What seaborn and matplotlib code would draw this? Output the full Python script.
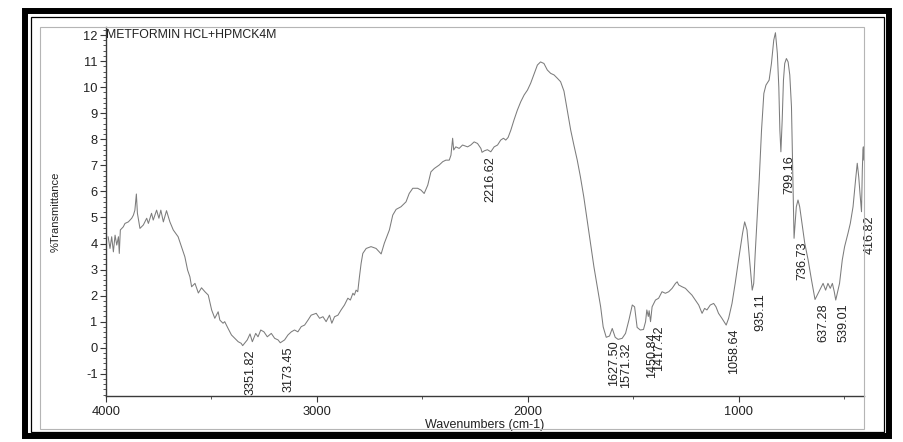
import numpy as np
import pandas as pd
import matplotlib
matplotlib.use("Agg")
import matplotlib.pyplot as plt
from matplotlib.patches import Rectangle
from matplotlib.ticker import MultipleLocator
import seaborn as sns

# ---------------- data ----------------
wn_a = [3990, 3981, 3973, 3965, 3957, 3949, 3941, 3937, 3932, 3918, 3910, 3894, 3878, 3870, 3863,
        3856, 3851, 3839, 3823, 3807, 3799, 3784, 3776, 3760, 3749, 3740, 3728, 3713, 3697, 3681,
        3658, 3642, 3626, 3613, 3602, 3594, 3578, 3562, 3547, 3531, 3515, 3499, 3484, 3468, 3460]
t_a = [4.26, 3.81, 4.26, 3.68, 4.32, 3.94, 4.26, 3.62, 4.52, 4.64, 4.77, 4.83, 4.97, 5.09, 5.28,
       5.90, 5.16, 4.58, 4.71, 4.97, 4.77, 5.16, 4.90, 5.28, 4.97, 5.28, 4.83, 5.26, 4.83, 4.52,
       4.26, 3.88, 3.49, 2.98, 2.72, 2.34, 2.47, 2.10, 2.30, 2.15, 2.02, 1.45, 1.13, 1.38, 1.06]

wn_b = [3445, 3437, 3421, 3405, 3389, 3373, 3359, 3351.82, 3330, 3317, 3306, 3290, 3279, 3266, 3251,
        3235, 3216, 3200, 3184, 3173.45, 3153, 3137, 3121, 3106, 3090, 3074, 3058, 3042, 3027, 3003,
        2987, 2971, 2956, 2940, 2929, 2916, 2900, 2885, 2869, 2853, 2841, 2829, 2822, 2814, 2806]
t_b = [0.94, 1.00, 0.74, 0.49, 0.36, 0.23, 0.17, 0.08, 0.30, 0.53, 0.23, 0.55, 0.42, 0.68, 0.61,
       0.42, 0.55, 0.36, 0.30, 0.19, 0.30, 0.49, 0.61, 0.68, 0.61, 0.81, 0.87, 1.06, 1.25, 1.32,
       1.13, 1.19, 1.00, 1.25, 0.94, 1.19, 1.25, 1.45, 1.64, 1.90, 1.83, 2.09, 2.02, 2.21, 2.15]

wn_c = [2798, 2790, 2782, 2766, 2743, 2719, 2695, 2680, 2656, 2640, 2624, 2601, 2577, 2562, 2545,
        2522, 2506, 2491, 2474, 2459, 2443, 2420, 2403, 2388, 2372, 2364, 2356, 2351, 2341, 2325,
        2309, 2285, 2270, 2254, 2238, 2222, 2216.62, 2205, 2191, 2175, 2159, 2143, 2128, 2115, 2104,
        2093, 2080, 2065, 2049, 2033, 2017, 2001]
t_c = [2.72, 3.24, 3.62, 3.81, 3.88, 3.81, 3.60, 4.01, 4.52, 5.09, 5.31, 5.41, 5.60, 5.92, 6.12,
       6.12, 6.05, 5.92, 6.24, 6.75, 6.88, 7.01, 7.14, 7.20, 7.20, 7.39, 8.04, 7.59, 7.71, 7.65,
       7.78, 7.71, 7.78, 7.90, 7.84, 7.65, 7.50, 7.56, 7.60, 7.52, 7.71, 7.78, 7.97, 8.04, 7.97,
       8.07, 8.35, 8.74, 9.12, 9.44, 9.70, 9.89]

wn_d = [1986, 1970, 1954, 1939, 1923, 1907, 1891, 1875, 1859, 1844, 1828, 1812, 1796, 1781, 1765,
        1750, 1734, 1718, 1702, 1686, 1670, 1654, 1642, 1627.50, 1612, 1599, 1585, 1571.32, 1552, 1536,
        1520, 1504, 1493, 1481, 1466, 1450.84, 1441, 1435, 1428, 1424, 1417.42, 1410, 1402, 1394, 1379,
        1363, 1347, 1331, 1315, 1299, 1291, 1284, 1268, 1252, 1237, 1221, 1205, 1189, 1173, 1161,
        1150, 1134, 1118, 1107, 1095, 1079, 1058.64, 1047, 1031, 1016, 1000]
t_d = [10.15, 10.50, 10.85, 10.97, 10.91, 10.66, 10.53, 10.47, 10.34, 10.21, 9.85, 9.10, 8.35, 7.78, 7.20,
       6.56, 5.79, 4.90, 4.01, 3.11, 2.34, 1.57, 0.80, 0.40, 0.45, 0.74, 0.40, 0.32, 0.36, 0.55,
       1.06, 1.64, 1.57, 0.78, 0.68, 0.70, 1.00, 1.45, 1.20, 1.42, 1.00, 1.57, 1.70, 1.83, 1.90,
       2.15, 2.09, 2.15, 2.28, 2.47, 2.53, 2.41, 2.34, 2.28, 2.15, 2.02, 1.83, 1.64, 1.32, 1.51,
       1.45, 1.64, 1.70, 1.57, 1.32, 1.13, 0.87, 1.13, 1.70, 2.47, 3.37]

wn_e = [981, 971, 960, 953, 945, 935.11, 928, 921, 902, 891, 880, 870, 855, 844, 833,
        825, 816, 809, 804, 799.16, 793, 787, 781, 773, 765, 757, 749, 744, 740, 736.73,
        726, 718, 710, 697, 686, 670, 654, 637.28, 615, 599, 587, 576, 565, 555, 546,
        539.01, 521, 508, 497, 481, 470, 457, 445, 437, 430, 424, 416.82, 413, 410, 408, 406]
t_e = [4.39, 4.83, 4.52, 3.88, 3.11, 2.21, 2.47, 3.62, 6.44, 8.35, 9.76, 10.08, 10.27, 10.91, 11.81,
       12.09, 11.30, 10.00, 8.35, 7.52, 8.74, 10.27, 10.91, 11.10, 10.97, 10.47, 9.25, 7.20, 5.41, 4.20,
       5.41, 5.67, 5.41, 4.64, 4.01, 3.37, 2.60, 1.85, 2.21, 2.47, 2.21, 2.47, 2.28, 2.47, 2.15,
       1.83, 2.47, 3.37, 3.88, 4.39, 4.77, 5.41, 6.44, 7.08, 6.56, 5.92, 5.22, 6.82, 7.59, 7.71, 7.20]

peak_labels = ["3351.82", "3173.45", "2216.62", "1627.50", "1571.32", "1450.84", "1417.42",
               "1058.64", "935.11", "799.16", "736.73", "637.28", "539.01", "416.82"]

title_text = "METFORMIN HCL+HPMCK4M"
x_label = "Wavenumbers (cm-1)"
y_label = "%Transmittance"
x_ticks = [4000, 3000, 2000, 1000]
y_ticks = list(range(-1, 13))

# ---------------- build frame ----------------
wn = wn_a + wn_b + wn_c + wn_d + wn_e
tt = t_a + t_b + t_c + t_d + t_e
df = pd.DataFrame({"wavenumber": wn, "transmittance": tt})

sns.set_style("ticks")
plt.rcParams["font.family"] = ["Liberation Sans", "DejaVu Sans"]

W, H = 904, 442
fig = plt.figure(figsize=(W / 100, H / 100), dpi=100)
fig.patch.set_facecolor("white")

def fx(px):
    return px / W

def fy(py):
    return 1 - py / H

# black scanned-page frame
fig.patches.append(Rectangle((fx(25), fy(436)), fx(889) - fx(25), fy(11) - fy(436),
                             transform=fig.transFigure, fill=False, lw=4.3, ec="black", zorder=10))
fig.patches.append(Rectangle((fx(31), fy(432)), fx(884) - fx(31), fy(17) - fy(432),
                             transform=fig.transFigure, fill=False, lw=0.9, ec="black", zorder=10))
# light gray print box
fig.patches.append(Rectangle((fx(40), fy(429)), fx(864) - fx(40), fy(27) - fy(429),
                             transform=fig.transFigure, fill=False, lw=0.8, ec="#b5b5b5", zorder=9))

ax = fig.add_axes([fx(106), fy(396), fx(864) - fx(106), fy(27) - fy(396)])
ax.set_facecolor("none")

sns.lineplot(data=df, x="wavenumber", y="transmittance", ax=ax, estimator=None, sort=False,
             color="#7c7c7c", lw=0.75)

ax.set_xlim(4000, 405)
ax.set_ylim(-1.853, 12.31)

ax.set_xticks(x_ticks)
ax.set_xticklabels([str(v) for v in x_ticks])
ax.xaxis.set_minor_locator(MultipleLocator(500))
ax.set_yticks(y_ticks)
ax.set_yticklabels([str(v) for v in y_ticks])
ax.yaxis.set_minor_locator(MultipleLocator(0.2))

for s in ["top", "right"]:
    ax.spines[s].set_visible(False)
for s in ["left", "bottom"]:
    ax.spines[s].set_color("#3a3a3a")
    ax.spines[s].set_linewidth(1.0)

ax.tick_params(axis="both", which="major", direction="out", color="#3a3a3a",
               labelcolor="#222222", labelsize=9.3, width=0.8)
ax.tick_params(axis="y", which="major", length=4.5, pad=1.5)
ax.tick_params(axis="y", which="minor", length=2.2, width=0.6, color="#3a3a3a", left=True)
ax.tick_params(axis="x", which="major", length=4, pad=3)
ax.tick_params(axis="x", which="minor", length=2.2, width=0.6, color="#3a3a3a", bottom=True)

ax.set_xlabel(x_label, fontsize=9, color="#222222", labelpad=1)
ax.set_ylabel(y_label, fontsize=8, color="#222222", labelpad=16)

ax.text(4000, 12, title_text, ha="left", va="center", fontsize=8.8, color="#222222")

wn_arr = np.array(wn)[::-1]
tt_arr = np.array(tt)[::-1]
for lab in peak_labels:
    w = float(lab)
    t = float(np.interp(w, wn_arr, tt_arr))
    ax.annotate(lab, xy=(w, t), xytext=(1.5, -2.5), textcoords="offset points",
                rotation=90, ha="left", va="top", fontsize=9.1, color="#222222")

fig.savefig("out.png", dpi=100)
